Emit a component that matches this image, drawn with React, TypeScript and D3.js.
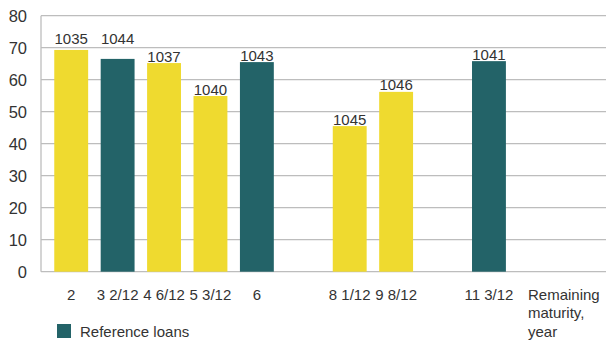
import React, { useEffect, useRef } from 'react';
import * as d3 from 'd3';

// slots on the maturity axis (blank slots keep the gaps)
const categories = ['2', '3 2/12', '4 6/12', '5 3/12', '6', 'g1', '8 1/12', '9 8/12', 'g2', '11 3/12', 'g3', 'g4'];
const barCategories = ['2', '3 2/12', '4 6/12', '5 3/12', '6', '8 1/12', '9 8/12', '11 3/12'];
const barValues = [69.3, 66.5, 65.2, 54.9, 65.5, 45.5, 56.2, 65.8];
const barLabels = ['1035', '1044', '1037', '1040', '1043', '1045', '1046', '1041'];
const isReference = [false, true, false, false, true, false, false, true];
const yTicks = [0, 10, 20, 30, 40, 50, 60, 70, 80];

const YELLOW = '#efda2f';
const TEAL = '#236368';
const GRID = '#bdbdbd';
const TEXT = '#333333';
const FONT = '"Liberation Sans", Arial, sans-serif';

const App = () => {
  const svgRef = useRef(null);

  useEffect(() => {
    const width = 609;
    const height = 340;
    const plot = { left: 41, right: 606, top: 15.7, bottom: 271.7 };

    d3.select(svgRef.current).selectAll('*').remove();
    const svg = d3.select(svgRef.current)
      .attr('width', width)
      .attr('height', height)
      .style('font-family', FONT);

    const x = d3.scaleBand()
      .domain(categories)
      .range([48, 605])
      .paddingInner(0.27)
      .paddingOuter(0.135);

    const y = d3.scaleLinear()
      .domain([0, 80])
      .range([plot.bottom, plot.top]);

    // gridlines
    svg.append('g')
      .selectAll('line')
      .data(yTicks)
      .enter().append('line')
      .attr('x1', plot.left)
      .attr('x2', plot.right)
      .attr('y1', d => y(d))
      .attr('y2', d => y(d))
      .attr('stroke', GRID)
      .attr('stroke-width', 1.3);

    // y axis line
    svg.append('line')
      .attr('x1', plot.left)
      .attr('x2', plot.left)
      .attr('y1', y(80))
      .attr('y2', y(0))
      .attr('stroke', GRID)
      .attr('stroke-width', 1.3);

    // y tick labels
    svg.append('g')
      .selectAll('text')
      .data(yTicks)
      .enter().append('text')
      .attr('x', 27)
      .attr('y', d => y(d) + 5.8)
      .attr('text-anchor', 'end')
      .attr('font-size', 16.5)
      .attr('fill', TEXT)
      .text(d => d);

    const bars = barCategories.map((c, i) => ({
      c, v: barValues[i], label: barLabels[i], ref: isReference[i],
    }));

    svg.append('g')
      .selectAll('rect')
      .data(bars)
      .enter().append('rect')
      .attr('x', d => x(d.c))
      .attr('y', d => y(d.v))
      .attr('width', x.bandwidth())
      .attr('height', d => y(0) - y(d.v))
      .attr('fill', d => (d.ref ? TEAL : YELLOW));

    // value labels, lifted above the 70 gridline when they would cross it
    const labelY = (v) => {
      const base = y(v) - 1.5;
      return base - 10 < y(70) && base > y(70) ? y(70) - 4 : base;
    };
    svg.append('g')
      .selectAll('text')
      .data(bars)
      .enter().append('text')
      .attr('x', d => x(d.c) + x.bandwidth() / 2)
      .attr('y', d => labelY(d.v))
      .attr('text-anchor', 'middle')
      .attr('font-size', 15)
      .attr('fill', TEXT)
      .text(d => d.label);

    // x tick labels
    svg.append('g')
      .selectAll('text')
      .data(categories.filter(c => !c.startsWith('g')))
      .enter().append('text')
      .attr('x', d => x(d) + x.bandwidth() / 2)
      .attr('y', 300)
      .attr('text-anchor', 'middle')
      .attr('font-size', 15)
      .attr('fill', TEXT)
      .text(d => d);

    // axis title
    const title = svg.append('text')
      .attr('x', 528)
      .attr('y', 300)
      .attr('font-size', 15)
      .attr('fill', TEXT);
    ['Remaining', 'maturity,', 'year'].forEach((t, i) => {
      title.append('tspan').attr('x', 528).attr('dy', i === 0 ? 0 : 18.3).text(t);
    });

    // legend
    svg.append('rect')
      .attr('x', 57)
      .attr('y', 324)
      .attr('width', 14)
      .attr('height', 14)
      .attr('fill', TEAL);
    svg.append('text')
      .attr('x', 80)
      .attr('y', 336.5)
      .attr('font-size', 15)
      .attr('fill', TEXT)
      .text('Reference loans');
  }, []);

  return <svg ref={svgRef} style={{ position: 'absolute', left: 0, top: 0 }}></svg>;
};

export default App;
